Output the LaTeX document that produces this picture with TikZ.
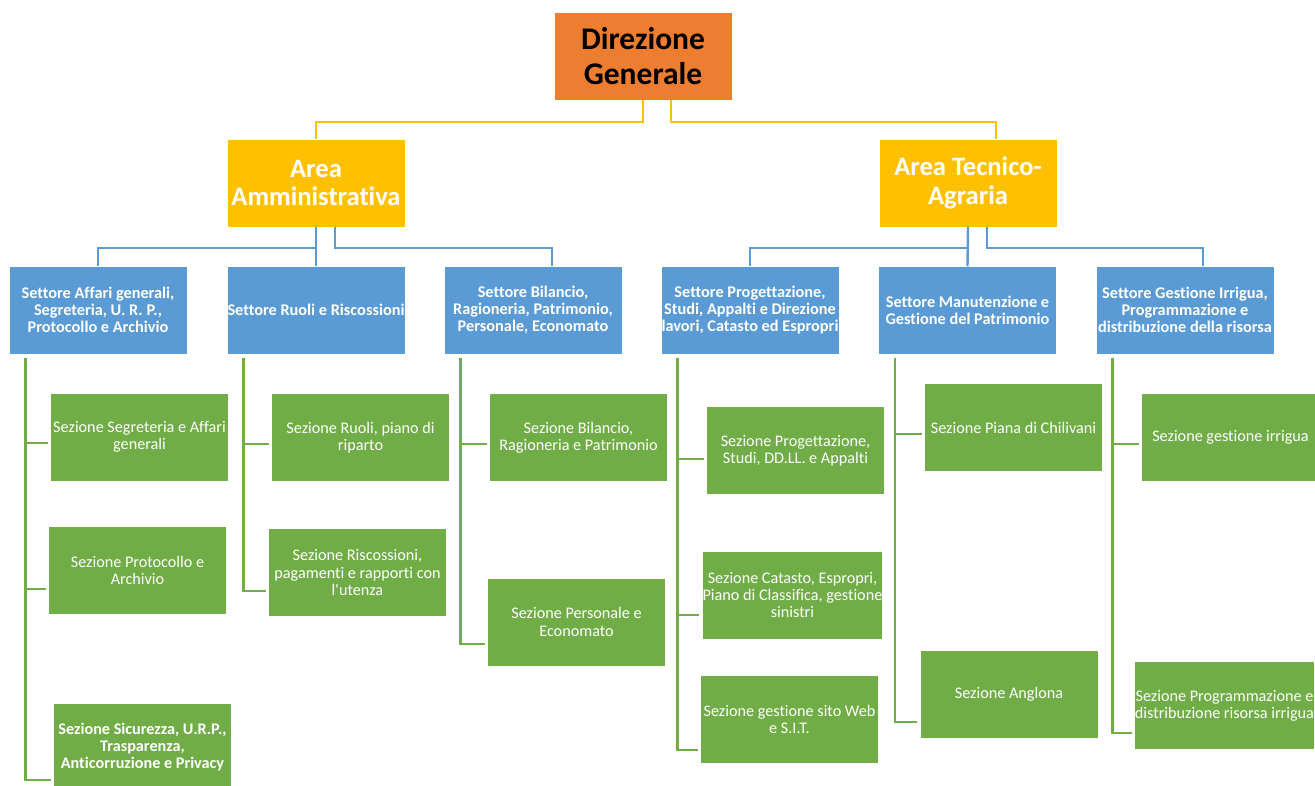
\documentclass[tikz,border=0pt]{standalone}
\usepackage{fontspec}
\setmainfont{Carlito}[Ligatures={TeX,NoCommon}]
\usetikzlibrary{positioning}

\definecolor{dgorange}{HTML}{ED7D31}
\definecolor{areayellow}{HTML}{FFC000}
\definecolor{setblue}{HTML}{5B9BD5}
\definecolor{sezgreen}{HTML}{70AD47}

\begin{document}
\begin{tikzpicture}[
        x=1pt, y=-1pt,
        box/.style={rectangle, inner sep=0pt, align=center, minimum width=177pt, minimum height=87pt},
        dirbox/.style={box, fill=dgorange, text=black, font=\fontsize{31.5}{34.5}\selectfont\bfseries},
        areabox/.style={box, fill=areayellow, text=white, font=\fontsize{26.6}{28.8}\selectfont\bfseries},
        setbox/.style={box, fill=setblue, text=white, font=\fontsize{16.3}{17}\selectfont\bfseries},
        sezbox/.style={box, fill=sezgreen, text=white, font=\fontsize{16.2}{17.3}\selectfont},
        yline/.style={areayellow, line width=2.4pt},
        bline/.style={setblue, line width=2.4pt},
        gline/.style={sezgreen, line width=2.6pt}
        ]
        \fill[white] (0,0) rectangle (1315,785);
        \useasboundingbox (0,0) rectangle (1315,785);

        % --- Top ---
        \node[dirbox] (dg) at (643, 56) {Direzione\\Generale};

        % Areas
        \node[areabox] (aa) at (316, 183) {Area\\Amministrativa};
        \node[areabox] (at) at (968, 183) {Area Tecnico-\\Agraria};

        % Settori (row at y=310)
        \node[setbox] (s1) at (98, 310)    {Settore Affari generali,\\Segreteria, U. R. P.,\\Protocollo e Archivio};
        \node[setbox] (s2) at (316, 310)   {Settore Ruoli e Riscossioni};
        \node[setbox] (s3) at (533, 310)   {Settore Bilancio,\\Ragioneria, Patrimonio,\\Personale, Economato};
        \node[setbox] (s4) at (750, 310)   {Settore Progettazione,\\Studi, Appalti e Direzione\\lavori, Catasto ed Espropri};
        \node[setbox] (s5) at (967.5, 310) {Settore Manutenzione e\\Gestione del Patrimonio};
        \node[setbox] (s6) at (1185, 310)  {Settore Gestione Irrigua,\\Programmazione e\\distribuzione della risorsa};

        % Sezioni, column 1
        \node[sezbox] (c11) at (139.5, 437)  {Sezione Segreteria e Affari\\generali};
        \node[sezbox] (c12) at (137.5, 570.5) {Sezione Protocollo e\\Archivio};
        \node[sezbox, font=\fontsize{16.2}{17.3}\selectfont\bfseries] (c13) at (142.5, 747)
            {Sezione Sicurezza, U.R.P.,\\Trasparenza,\\Anticorruzione e Privacy};

        % Sezioni, column 2
        \node[sezbox] (c21) at (360.5, 437.5) {Sezione Ruoli, piano di\\riparto};
        \node[sezbox] (c22) at (357.5, 572.5) {Sezione Riscossioni,\\pagamenti e rapporti con\\l\textquotesingle utenza};

        % Sezioni, column 3
        \node[sezbox] (c31) at (578.5, 437.5) {Sezione Bilancio,\\Ragioneria e Patrimonio};
        \node[sezbox] (c32) at (576.5, 622)   {Sezione Personale e\\Economato};

        % Sezioni, column 4
        \node[sezbox] (c41) at (795.5, 450.5) {Sezione Progettazione,\\Studi, DD.LL. e Appalti};
        \node[sezbox] (c42) at (792.5, 595)   {Sezione Catasto, Espropri,\\Piano di Classifica, gestione\\sinistri};
        \node[sezbox] (c43) at (789.5, 719.5) {Sezione gestione sito Web\\e S.I.T.};

        % Sezioni, column 5
        \node[sezbox] (c51) at (1013.5, 427.5) {Sezione Piana di Chilivani};
        \node[sezbox] (c52) at (1009, 694)     {Sezione Anglona};

        % Sezioni, column 6
        \node[sezbox] (c61) at (1230.5, 437.5) {Sezione gestione irrigua};
        \node[sezbox] (c62) at (1224.5, 705.5) {Sezione Programmazione e\\distribuzione risorsa irrigua};

        % Yellow links
        \draw[yline] (dg.south) -- ++(0,22) -| (aa.north);
        \draw[yline] ([xshift=28pt]dg.south) -- ++(0,22) -| ([xshift=28pt]at.north);

        % Blue links
        \draw[bline] (aa.south) -- ++(0,21) -| (s1.north);
        \draw[bline] (aa.south) -- (s2.north);
        \draw[bline] ([xshift=19pt]aa.south) -- ++(0,21) -| ([xshift=19pt]s3.north);
        \draw[bline] (at.south) -- ++(0,21) -| (s4.north);
        \draw[bline] (at.south) -- (s5.north);
        \draw[bline] ([xshift=19pt]at.south) -- ++(0,21) -| ([xshift=18pt]s6.north);

        % Green links
        \foreach \up/\kid/\dy in {s1/c11/6, s1/c12/18.5, s1/c13/33,
                                  s2/c21/6.5, s2/c22/18.5,
                                  s3/c31/6.5, s3/c32/22,
                                  s4/c41/8.5, s4/c42/20, s4/c43/30.5,
                                  s5/c51/6.5, s5/c52/28,
                                  s6/c61/6.5, s6/c62/27.5}
            \draw[gline] ([xshift=16pt,yshift=-4pt]\up.south west) |- ([xshift=-3pt,yshift=-\dy pt]\kid.west);

    \end{tikzpicture}
\end{document}
